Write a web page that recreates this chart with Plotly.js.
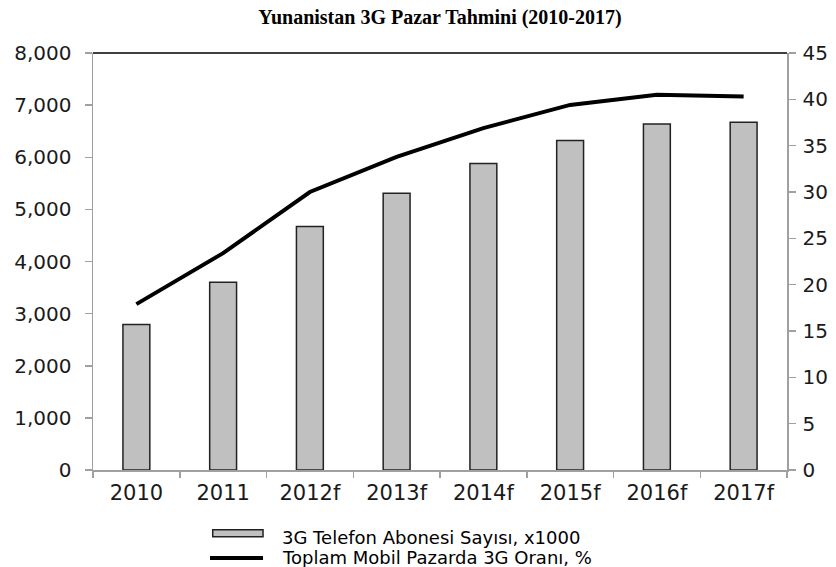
<!DOCTYPE html>
<html>
<head>
<meta charset="utf-8">
<script src="https://cdn.plot.ly/plotly-3.0.1.min.js"></script>
<style>html,body{margin:0;padding:0;background:#fff;}#chart{width:836px;height:567px;}</style>
</head>
<body>
<div id="chart"></div>
<script>
const categories = ["2010", "2011", "2012f", "2013f", "2014f", "2015f", "2016f", "2017f"];
const subscribers = [2790, 3600, 4670, 5310, 5880, 6320, 6640, 6670];
const share3g = [17.9, 23.4, 30.0, 33.8, 36.9, 39.4, 40.5, 40.3];
const barName = "3G Telefon Abonesi Sayısı, x1000";
const lineName = "Toplam Mobil Pazarda 3G Oranı, %";
const chartTitle = "Yunanistan 3G Pazar Tahmini (2010-2017)";

const sans = "DejaVu Sans, Verdana, sans-serif";
const yTickFont = {family: sans, size: 20, color: "#1a1a1a"};
const xTickFont = {family: sans, size: 21, color: "#1a1a1a"};
const legendFont = {family: sans, size: 18, color: "#000"};

const traces = [
  {
    type: "bar", x: categories, y: subscribers, name: barName,
    marker: {color: "#c0c0c0", line: {color: "#222", width: 1.5}},
    showlegend: false
  },
  {
    type: "scatter", mode: "lines", x: categories, y: share3g, name: lineName,
    yaxis: "y2", line: {color: "#000", width: 4}, showlegend: false
  }
];

const layout = {
  width: 836, height: 567,
  margin: {l: 93, r: 49, t: 53, b: 97},
  paper_bgcolor: "#fff", plot_bgcolor: "#fff",
  bargap: 0.69,
  title: {
    text: "<b>" + chartTitle + "</b>",
    font: {family: "Liberation Serif, Times New Roman, serif", size: 20, color: "#000"},
    x: 0.5, xref: "paper", xanchor: "center", y: 0.970, yref: "container", yanchor: "middle"
  },
  xaxis: {
    type: "category", showline: true, linecolor: "#a0a0a0", linewidth: 1.5,
    ticks: "outside", tickson: "boundaries", ticklen: 6, tickcolor: "#a0a0a0", tickwidth: 1.5,
    tickfont: xTickFont, showgrid: false, zeroline: false, ticklabelstandoff: 3
  },
  yaxis: {
    range: [0, 8000], dtick: 1000, tickformat: ",d",
    showline: true, linecolor: "#a0a0a0", linewidth: 1.5,
    ticks: "outside", ticklen: 7, tickcolor: "#a0a0a0", tickwidth: 1.5,
    tickfont: yTickFont, showgrid: false, zeroline: false, ticklabelstandoff: 9
  },
  yaxis2: {
    overlaying: "y", side: "right", range: [0, 45], dtick: 5,
    showline: true, linecolor: "#a0a0a0", linewidth: 1.5,
    ticks: "outside", ticklen: 7, tickcolor: "#a0a0a0", tickwidth: 1.5,
    tickfont: yTickFont, showgrid: false, zeroline: false, ticklabelstandoff: 3
  },
  shapes: [
    {type: "line", xref: "paper", yref: "paper", x0: 0, x1: 1, y0: 1, y1: 1,
     line: {color: "#000", width: 1.5}},
    {type: "rect", xref: "paper", yref: "paper", x0: 0.1725, x1: 0.245, y0: -0.160, y1: -0.1435,
     fillcolor: "#c0c0c0", line: {color: "#222", width: 1.5}},
    {type: "line", xref: "paper", yref: "paper", x0: 0.1686, x1: 0.245, y0: -0.211, y1: -0.211,
     line: {color: "#000", width: 4}}
  ],
  annotations: [
    {xref: "paper", yref: "paper", x: 0.271, y: -0.162, xanchor: "left", yanchor: "middle",
     text: barName, showarrow: false, font: legendFont, borderpad: 0},
    {xref: "paper", yref: "paper", x: 0.271, y: -0.211, xanchor: "left", yanchor: "middle",
     text: lineName, showarrow: false, font: legendFont, borderpad: 0}
  ]
};

Plotly.newPlot("chart", traces, layout, {displayModeBar: false, staticPlot: true});
</script>
</body>
</html>
